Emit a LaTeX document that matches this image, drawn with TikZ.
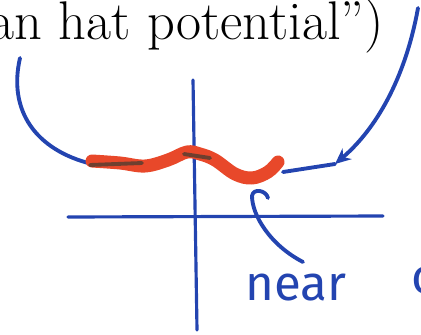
\documentclass[tikz,border=0pt]{standalone}
\usepackage{fontspec}
\newfontfamily\handfont{Fira Sans}
\usetikzlibrary{arrows.meta}
\definecolor{pen}{HTML}{2344B0}
\definecolor{marker}{HTML}{E8482A}
\definecolor{smudge}{HTML}{5A3E30}
\begin{document}
\begin{tikzpicture}[x=0.02cm,y=-0.02cm,line cap=round,line join=round]
  \tikzstyle{ink}=[draw=pen,line width=2.2pt]
  \tikzstyle{axis}=[draw=pen,line width=1.8pt]
  \tikzstyle{hand}=[text=pen,font=\handfont\fontsize{28}{30}\selectfont,inner sep=0pt]
  \useasboundingbox (0,0) rectangle (421,334);
  \node[font=\fontsize{31}{35}\selectfont,anchor=base east,inner sep=0pt] (title) at (384,40) {an hat potential”)};
  % axes
  \coordinate (xl) at (68,217); \coordinate (xr) at (383,216);
  \coordinate (yt) at (193,80); \coordinate (yb) at (197,330);
  \draw[axis] (xl) -- (xr);
  \draw[axis] (yt) -- (yb);
  % outer walls of the potential
  \coordinate (lt) at (20,58); \coordinate (lb) at (92,164);
  \coordinate (rt) at (418,8); \coordinate (rm) at (335,164); \coordinate (rb) at (283,172);
  \draw[ink] (lt) .. controls (8,110) and (35,150) .. (lb);
  \draw[ink,-{Stealth[length=9pt,width=8pt]}] (rt) .. controls (405,80) and (375,130) .. (rm);
  \draw[ink] (rm) -- (rb);
  % marked region near the bottom
  \draw[marker,line width=7.4pt] plot[smooth,tension=0.6] coordinates
    {(92,161) (120,163) (145,166) (168,160) (187,152) (200,154) (215,160) (235,174) (252,178) (268,172) (278,162)};
  \foreach \a/\b in {{(90,165)}/{(142,163)},{(184,154)}/{(210,158)}}
    \draw[smudge,opacity=0.85,line width=2.2pt] \a -- \b;
  % annotation
  \node[hand,anchor=base west] (near) at (245,300) {near};
  \node[hand,anchor=base west] (next) at (411,293) {o};
  \draw[ink] (303,262) .. controls (270,245) and (252,215) .. (252,196)
    .. controls (253,188) and (266,190) .. (268,198);
\end{tikzpicture}
\end{document}
